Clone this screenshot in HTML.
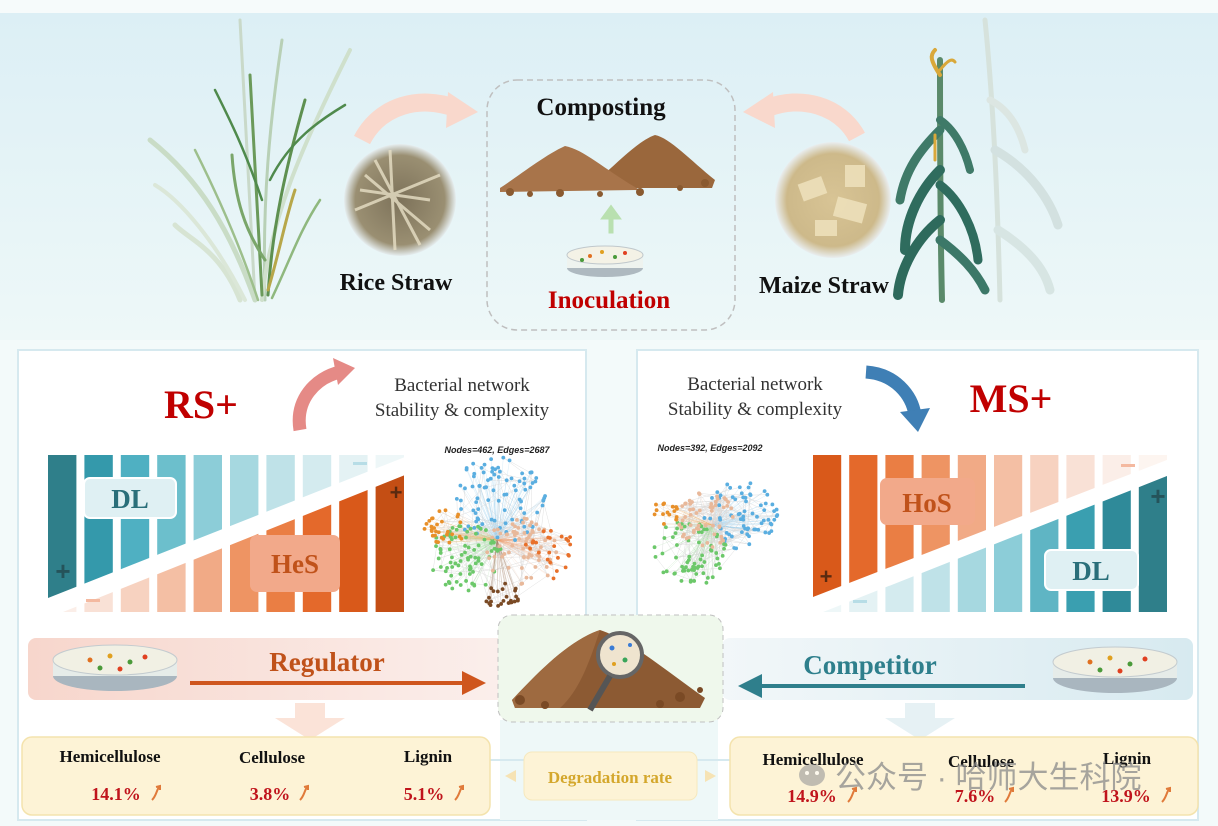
<!DOCTYPE html>
<html><head><meta charset="utf-8"><style>
html,body{margin:0;padding:0;background:#fff}
svg{display:block}
.s{font-family:"Liberation Serif",serif}
</style></head><body>
<svg id="m" width="1218" height="826" viewBox="0 0 1218 826" xmlns="http://www.w3.org/2000/svg">
<defs>
<linearGradient id="top" x1="0" y1="0" x2="0" y2="1"><stop offset="0" stop-color="#dcEFF5"/><stop offset="1" stop-color="#eef8f8"/></linearGradient>
<linearGradient id="reg" x1="0" y1="0" x2="1" y2="0"><stop offset="0" stop-color="#f7d6cc"/><stop offset="1" stop-color="#fbefec"/></linearGradient>
<linearGradient id="comp" x1="0" y1="0" x2="1" y2="0"><stop offset="0" stop-color="#f2f7f9"/><stop offset="1" stop-color="#d7eaf0"/></linearGradient>
<radialGradient id="rs" cx=".5" cy=".5" r=".5"><stop offset="0" stop-color="#7d725a"/><stop offset=".8" stop-color="#9a8f72"/><stop offset="1" stop-color="#e6eef0"/></radialGradient>
<radialGradient id="ms" cx=".5" cy=".5" r=".5"><stop offset="0" stop-color="#d8c495"/><stop offset=".8" stop-color="#cdb98a"/><stop offset="1" stop-color="#e9eef0"/></radialGradient>
<marker id="ao" markerWidth="6" markerHeight="6" refX="3" refY="3" orient="auto"><path d="M0,0 L6,3 L0,6 z" fill="#cf561e"/></marker>
<marker id="at" markerWidth="6" markerHeight="6" refX="3" refY="3" orient="auto"><path d="M0,0 L6,3 L0,6 z" fill="#2f7f8c"/></marker>
<clipPath id="lt"><polygon points="48,455 410,455 410,455 48,598"/></clipPath>
<clipPath id="lb"><polygon points="48,618 410,473 410,612 48,612"/></clipPath>
<clipPath id="rt"><polygon points="813,455 1172,455 1172,458 813,597"/></clipPath>
<clipPath id="rb"><polygon points="813,616 1172,474 1172,612 813,612"/></clipPath>
</defs>
<rect width="1218" height="826" fill="#f6fbfb"/>
<rect x="0" y="13" width="1218" height="330" fill="url(#top)"/>
<rect x="0" y="340" width="1218" height="486" fill="#f3fafa"/>
<rect x="18" y="350" width="568" height="470" fill="#fff" stroke="#d6e9ef" stroke-width="2"/>
<rect x="637" y="350" width="561" height="470" fill="#fff" stroke="#d6e9ef" stroke-width="2"/>
<rect x="500" y="720" width="218" height="100" fill="#eef8f8"/>
<line x1="490" y1="760" x2="735" y2="760" stroke="#d6e9ef" stroke-width="2"/>

<!-- rice plant -->
<g stroke-linecap="round" fill="none">
<path d="M255,300 C250,220 245,120 240,20" stroke="#c9d9c9" stroke-width="3"/>
<path d="M265,300 C262,200 270,120 282,40" stroke="#b8d0b6" stroke-width="3"/>
<path d="M255,300 C230,230 200,180 150,140" stroke="#c9dcc6" stroke-width="5"/>
<path d="M262,300 C270,220 300,150 350,50" stroke="#cfe0cc" stroke-width="4"/>
<path d="M240,300 C220,250 190,240 175,225" stroke="#d7e4d3" stroke-width="5"/>
<path d="M245,300 C215,240 180,200 155,185" stroke="#dbe7d8" stroke-width="4"/>
<path d="M262,295 C258,230 255,160 250,75" stroke="#6b9a5a" stroke-width="3"/>
<path d="M268,295 C272,230 285,170 305,100" stroke="#5e9050" stroke-width="3"/>
<path d="M262,200 C245,150 230,120 215,90" stroke="#4f8a4c" stroke-width="2.5"/>
<path d="M270,180 C290,140 320,120 345,105" stroke="#4f8a4c" stroke-width="2.5"/>
<path d="M265,260 C245,230 235,200 232,155" stroke="#7aa66a" stroke-width="3"/>
<path d="M268,290 C280,250 285,220 295,190" stroke="#b7a74a" stroke-width="3"/>
<path d="M258,300 C245,260 225,210 195,150" stroke="#9dbf8c" stroke-width="2.5"/>
<path d="M272,298 C290,260 300,230 320,200" stroke="#8fb87e" stroke-width="2.5"/>
</g>
<!-- maize plant -->
<g stroke-linecap="round" fill="none">
<path d="M1000,300 C998,220 995,120 985,20" stroke="#d6e2dc" stroke-width="5"/>
<path d="M995,150 C1030,170 1050,200 1058,225" stroke="#d3e1e0" stroke-width="9"/>
<path d="M998,230 C1030,250 1045,270 1050,290" stroke="#d7e5e3" stroke-width="9"/>
<path d="M990,100 C1010,110 1020,130 1025,150" stroke="#dce6e2" stroke-width="7"/>
<path d="M942,300 C940,220 940,130 940,60" stroke="#5a8a6a" stroke-width="6"/>
<path d="M940,130 C920,150 905,170 900,200" stroke="#3f7a68" stroke-width="9"/>
<path d="M940,120 C955,130 965,150 970,170" stroke="#3f7a68" stroke-width="8"/>
<path d="M940,170 C920,190 905,220 905,250" stroke="#2f6c5e" stroke-width="10"/>
<path d="M940,185 C960,200 975,230 978,260" stroke="#2f6c5e" stroke-width="9"/>
<path d="M940,220 C915,240 900,270 898,295" stroke="#2e6a5c" stroke-width="10"/>
<path d="M940,240 C960,255 975,270 985,290" stroke="#3c7868" stroke-width="9"/>
<path d="M940,75 C930,60 930,55 935,50" stroke="#d9a83a" stroke-width="4"/>
<path d="M940,70 C948,60 952,58 955,62" stroke="#d9a83a" stroke-width="3"/>
<path d="M935,160 l0,-25" stroke="#d9a83a" stroke-width="3"/>
</g>
<!-- straw circles -->
<circle cx="400" cy="200" r="56" fill="url(#rs)"/>
<g stroke="#e8e0c6" stroke-width="3" opacity=".8"><line x1="365" y1="175" x2="430" y2="230"/><line x1="375" y1="160" x2="420" y2="245"/><line x1="355" y1="210" x2="440" y2="175"/><line x1="390" y1="150" x2="395" y2="250"/><line x1="360" y1="190" x2="430" y2="200"/></g>
<circle cx="833" cy="200" r="58" fill="url(#ms)"/>
<g fill="#efe2bd" opacity=".85"><rect x="800" y="180" width="25" height="18" transform="rotate(-20 812 189)"/><rect x="835" y="200" width="30" height="20" transform="rotate(15 850 210)"/><rect x="815" y="220" width="22" height="16"/><rect x="845" y="165" width="20" height="22"/></g>
<!-- pink arrows -->
<path d="M362,140 C380,105 420,95 455,108" stroke="#f9d8cc" stroke-width="18" fill="none"/>
<path d="M448,92 L478,112 L446,128 z" fill="#f9d8cc"/>
<path d="M857,137 C840,105 800,95 768,108" stroke="#f9d8cc" stroke-width="18" fill="none"/>
<path d="M773,92 L743,112 L775,128 z" fill="#f9d8cc"/>
<!-- composting box -->
<rect x="487" y="80" width="248" height="250" rx="30" fill="none" stroke="#bfbfbf" stroke-width="1.5" stroke-dasharray="6,4"/>
<text x="601" y="115" text-anchor="middle" class="s" font-weight="bold" font-size="25" fill="#111">Composting</text>
<path d="M600,178 C620,160 640,140 655,135 C670,138 690,160 715,180 L712,188 L600,188 z" fill="#9a673c"/>
<path d="M500,188 C520,175 545,155 565,146 C585,150 605,170 640,190 L500,192 z" fill="#a8744a"/>
<g fill="#8a5a30"><circle cx="510" cy="192" r="4"/><circle cx="530" cy="194" r="3"/><circle cx="560" cy="193" r="4"/><circle cx="600" cy="194" r="3"/><circle cx="640" cy="192" r="4"/><circle cx="680" cy="188" r="3"/><circle cx="705" cy="183" r="4"/></g>
<path d="M610,232 L610,218 L603,218 L611,207 L619,218 L612,218 L612,232 z" fill="#b9e0b0" stroke="#b9e0b0" stroke-width="3"/>
<ellipse cx="605" cy="268" rx="38" ry="9" fill="#aeb9c0"/><rect x="567" y="255" width="76" height="13" fill="#eef3ef"/><ellipse cx="605" cy="255" rx="38" ry="9" fill="#f4f2e6" stroke="#c0c8cc"/>
<g><circle cx="590" cy="256" r="2" fill="#e07020"/><circle cx="602" cy="252" r="2" fill="#e0a020"/><circle cx="615" cy="257" r="2" fill="#4a9a3a"/><circle cx="625" cy="253" r="2" fill="#e04020"/><circle cx="582" cy="260" r="2" fill="#4a9a3a"/></g>
<text x="609" y="308" text-anchor="middle" class="s" font-weight="bold" font-size="25" fill="#c00000">Inoculation</text>
<text x="396" y="290" text-anchor="middle" class="s" font-weight="bold" font-size="24" fill="#111">Rice Straw</text>
<text x="824" y="293" text-anchor="middle" class="s" font-weight="bold" font-size="24" fill="#111">Maize Straw</text>

<!-- left panel -->
<text x="201" y="418" text-anchor="middle" class="s" font-weight="bold" font-size="40" fill="#c00000">RS+</text>
<path d="M300,430 C295,400 315,378 340,372" stroke="#e58a86" stroke-width="13" fill="none"/>
<path d="M333,358 L355,368 L338,385 z" fill="#e58a86"/>
<text x="462" y="391" text-anchor="middle" class="s" font-size="19" fill="#333">Bacterial network</text>
<text x="462" y="416" text-anchor="middle" class="s" font-size="19" fill="#333">Stability  &amp; complexity</text>
<g id="lbars"></g>
<rect x="84" y="478" width="92" height="40" rx="6" fill="#dff0f3" stroke="#fff" stroke-width="2"/>
<text x="130" y="508" text-anchor="middle" class="s" font-weight="bold" font-size="27" fill="#2a6f7a">DL</text>
<rect x="250" y="535" width="90" height="57" rx="7" fill="#f2a98a"/>
<text x="295" y="573" text-anchor="middle" class="s" font-weight="bold" font-size="27" fill="#c0521a">HeS</text>
<text x="63" y="580" text-anchor="middle" font-family="Liberation Sans" font-weight="bold" font-size="26" fill="#25535a">+</text>
<text x="396" y="500" text-anchor="middle" font-family="Liberation Sans" font-weight="bold" font-size="22" fill="#5a2a10">+</text>
<rect x="86" y="599" width="14" height="3" fill="#f4b9a0"/>
<rect x="353" y="462" width="14" height="3" fill="#b7dde6"/>
<text x="497" y="453" text-anchor="middle" font-family="Liberation Sans" font-style="italic" font-weight="bold" font-size="9" fill="#222">Nodes=462, Edges=2687</text>
<g id="lnet"></g>

<!-- right panel -->
<text x="1011" y="412" text-anchor="middle" class="s" font-weight="bold" font-size="40" fill="#c00000">MS+</text>
<path d="M866,372 C895,374 912,395 915,415" stroke="#3f7fb5" stroke-width="13" fill="none"/>
<path d="M900,412 L918,432 L930,408 z" fill="#3f7fb5"/>
<text x="755" y="390" text-anchor="middle" class="s" font-size="19" fill="#333">Bacterial network</text>
<text x="755" y="415" text-anchor="middle" class="s" font-size="19" fill="#333">Stability  &amp; complexity</text>
<g id="rbars"></g>
<rect x="880" y="478" width="95" height="47" rx="7" fill="#f2a98a"/>
<text x="927" y="512" text-anchor="middle" class="s" font-weight="bold" font-size="27" fill="#c0521a">HoS</text>
<rect x="1045" y="550" width="93" height="40" rx="6" fill="#dff0f3" stroke="#fff" stroke-width="2"/>
<text x="1091" y="580" text-anchor="middle" class="s" font-weight="bold" font-size="27" fill="#2a6f7a">DL</text>
<text x="826" y="584" text-anchor="middle" font-family="Liberation Sans" font-weight="bold" font-size="22" fill="#5a2a10">+</text>
<text x="1158" y="505" text-anchor="middle" font-family="Liberation Sans" font-weight="bold" font-size="26" fill="#25535a">+</text>
<rect x="853" y="600" width="14" height="3" fill="#b7dde6"/>
<rect x="1121" y="464" width="14" height="3" fill="#f4b9a0"/>
<text x="710" y="451" text-anchor="middle" font-family="Liberation Sans" font-style="italic" font-weight="bold" font-size="9" fill="#222">Nodes=392, Edges=2092</text>
<g id="rnet"></g>

<!-- bands -->
<rect x="28" y="638" width="480" height="62" rx="8" fill="url(#reg)"/>
<rect x="722" y="638" width="471" height="62" rx="8" fill="url(#comp)"/>
<text x="327" y="671" text-anchor="middle" class="s" font-weight="bold" font-size="27" fill="#c0521a">Regulator</text>
<line x1="190" y1="683" x2="474" y2="683" stroke="#cf561e" stroke-width="4" marker-end="url(#ao)"/>
<text x="870" y="674" text-anchor="middle" class="s" font-weight="bold" font-size="27" fill="#2e7f8c">Competitor</text>
<line x1="1025" y1="686" x2="750" y2="686" stroke="#2f7f8c" stroke-width="4" marker-end="url(#at)"/>
<g transform="translate(115,668)"><ellipse cx="0" cy="8" rx="62" ry="15" fill="#a9b6bf"/><rect x="-62" y="-8" width="124" height="16" fill="#e6ece9"/><ellipse cx="0" cy="-8" rx="62" ry="15" fill="#f1f0e4" stroke="#c3cbcf"/><circle cx="-25" cy="-8" r="2.5" fill="#e07020"/><circle cx="-5" cy="-12" r="2.5" fill="#e0a020"/><circle cx="15" cy="-6" r="2.5" fill="#4a9a3a"/><circle cx="30" cy="-11" r="2.5" fill="#e04020"/><circle cx="-15" cy="0" r="2.5" fill="#4a9a3a"/><circle cx="5" cy="1" r="2.5" fill="#e04020"/></g>
<g transform="translate(1115,670)"><ellipse cx="0" cy="8" rx="62" ry="15" fill="#a9b6bf"/><rect x="-62" y="-8" width="124" height="16" fill="#e6ece9"/><ellipse cx="0" cy="-8" rx="62" ry="15" fill="#f1f0e4" stroke="#c3cbcf"/><circle cx="-25" cy="-8" r="2.5" fill="#e07020"/><circle cx="-5" cy="-12" r="2.5" fill="#e0a020"/><circle cx="15" cy="-6" r="2.5" fill="#4a9a3a"/><circle cx="30" cy="-11" r="2.5" fill="#e04020"/><circle cx="-15" cy="0" r="2.5" fill="#4a9a3a"/><circle cx="5" cy="1" r="2.5" fill="#e04020"/></g>
<!-- center box -->
<rect x="498" y="615" width="225" height="107" rx="14" fill="#eff8ec" stroke="#bfbfbf" stroke-dasharray="5,4"/>
<path d="M512,700 C540,670 570,640 600,630 C630,640 665,670 705,698 L700,708 L515,708 z" fill="#8c5a33"/>
<path d="M512,700 C540,670 570,640 600,630 C590,660 580,690 560,708 L515,708 z" fill="#9e6a40"/>
<g fill="#7a4a25"><circle cx="520" cy="700" r="5"/><circle cx="545" cy="705" r="4"/><circle cx="680" cy="697" r="5"/><circle cx="700" cy="690" r="3"/><circle cx="660" cy="704" r="4"/></g>
<circle cx="620" cy="655" r="22" fill="#efe4cf" stroke="#666" stroke-width="4"/>
<line x1="610" y1="676" x2="590" y2="710" stroke="#555" stroke-width="6"/>
<g><circle cx="612" cy="648" r="2.5" fill="#3a7bd5"/><circle cx="625" cy="660" r="2.5" fill="#3aa55a"/><circle cx="630" cy="645" r="2" fill="#3a7bd5"/><circle cx="614" cy="664" r="2" fill="#e0a020"/></g>
<!-- down arrows -->
<path d="M295,703 L325,703 L325,718 L345,718 L310,740 L275,718 L295,718 z" fill="#fbe3d8"/>
<path d="M905,703 L935,703 L935,718 L955,718 L920,740 L885,718 L905,718 z" fill="#e6f1f4"/>
<!-- bottom boxes -->
<rect x="22" y="737" width="468" height="78" rx="10" fill="#fdf3d6" stroke="#f4e3ad" stroke-width="1.5"/>
<rect x="730" y="737" width="468" height="78" rx="10" fill="#fdf3d6" stroke="#f4e3ad" stroke-width="1.5"/>
<rect x="524" y="752" width="173" height="48" rx="8" fill="#fdf3d6" stroke="#f6e8bd"/>
<text x="610" y="783" text-anchor="middle" class="s" font-weight="bold" font-size="17" fill="#d4a72c">Degradation rate</text>
<path d="M516,770 L505,776 L516,782 z" fill="#f6e3b4"/><path d="M705,770 L716,776 L705,782 z" fill="#f6e3b4"/>
<g class="s" font-weight="bold" font-size="17" fill="#111" text-anchor="middle">
<text x="110" y="762">Hemicellulose</text><text x="272" y="763">Cellulose</text><text x="428" y="762">Lignin</text>
<text x="813" y="765">Hemicellulose</text><text x="981" y="767">Cellulose</text><text x="1127" y="764">Lignin</text>
</g>
<g class="s" font-weight="bold" font-size="18" fill="#c0141c" text-anchor="middle">
<text x="116" y="800">14.1%</text><text x="270" y="800">3.8%</text><text x="424" y="800">5.1%</text>
<text x="812" y="802">14.9%</text><text x="975" y="802">7.6%</text><text x="1126" y="802">13.9%</text>
</g>
<g stroke="#e07a3a" stroke-width="2" fill="none">
<path d="M152,800 C157,795 156,790 160,786 M156,787 l4,-1 l0,4"/><path d="M300,800 C305,795 304,790 308,786 M304,787 l4,-1 l0,4"/><path d="M455,800 C460,795 459,790 463,786 M459,787 l4,-1 l0,4"/>
<path d="M848,802 C853,797 852,792 856,788 M852,789 l4,-1 l0,4"/><path d="M1005,802 C1010,797 1009,792 1013,788 M1009,789 l4,-1 l0,4"/><path d="M1162,802 C1167,797 1166,792 1170,788 M1166,789 l4,-1 l0,4"/>
</g>
<!-- watermark -->
<g opacity=".6"><ellipse cx="812" cy="775" rx="13" ry="11" fill="#999"/><circle cx="807" cy="773" r="2" fill="#fff"/><circle cx="817" cy="773" r="2" fill="#fff"/></g>
<text x="835" y="788" font-family="'Liberation Sans','Noto Sans CJK SC',sans-serif" font-size="31" fill="#8a8a8a" opacity=".75">公众号 · 哈师大生科院</text>
</svg>
<script>
var NS="http://www.w3.org/2000/svg";
function el(p,t,a){var e=document.createElementNS(NS,t);for(var k in a)e.setAttribute(k,a[k]);p.appendChild(e);return e;}
var teal=["#2f7f8a","#3499ab","#4fb0c2","#6cbfcc","#8ccdd8","#a6d8e0","#bfe2e8","#d4ebef","#e4f2f4","#eef7f8"];
var ora=["#fbeee8","#f9e1d6","#f7d2c0","#f4bfa4","#f1aa86","#ee9463","#ea7e44","#e4692b","#d9591a","#c44e14"];
function bars(id,x0,pitch,topCols,botCols,ct,cb){var g=document.getElementById(id);
var gt=el(g,"g",{"clip-path":"url(#"+ct+")"}),gb=el(g,"g",{"clip-path":"url(#"+cb+")"});
for(var i=0;i<10;i++){var x=x0+i*pitch;el(gt,"rect",{x:x,y:455,width:pitch-8,height:160,fill:topCols[i]});el(gb,"rect",{x:x,y:455,width:pitch-8,height:157,fill:botCols[i]});}}
bars("lbars",48,36.4,teal,ora,"lt","lb");
bars("rbars",813,36.2,["#d9591a","#e4692b","#ea7e44","#ee9463","#f1aa86","#f4bfa4","#f7d2c0","#f9e1d6","#fbeee8","#fdf5f0"],["#eef7f8","#e4f2f4","#d4ebef","#bfe2e8","#a6d8e0","#8ccdd8","#5fb5c4","#3a9fb0","#2f8a99","#2f7f8a"],"rt","rb");
var s=7;function r(){s=(s*16807)%2147483647;return s/2147483647;}
function net(id,cx,cy,clusters){var g=document.getElementById(id);var pts=[];
clusters.forEach(function(c){for(var i=0;i<c.n;i++){var a=r()*6.283,d=Math.sqrt(r())*c.r;pts.push([cx+c.dx+Math.cos(a)*d*1.1,cy+c.dy+Math.sin(a)*d,c.col]);}});
var lg=el(g,"g",{stroke:"#c8c8c8","stroke-width":"0.4",opacity:"0.7"});
pts.forEach(function(p){for(var k=0;k<2;k++){var q=pts[Math.floor(r()*pts.length)];if(Math.abs(q[0]-p[0])+Math.abs(q[1]-p[1])<70)el(lg,"line",{x1:p[0],y1:p[1],x2:q[0],y2:q[1]});}
el(lg,"line",{x1:p[0],y1:p[1],x2:cx,y2:cy,stroke:p[2],opacity:.4});});
pts.forEach(function(p){el(g,"circle",{cx:p[0],cy:p[1],r:1.9,fill:p[2]});});}
net("lnet",497,540,[{n:90,r:44,dx:0,dy:-40,col:"#5aaee0"},{n:80,r:34,dx:-32,dy:18,col:"#6cc86a"},{n:70,r:34,dx:25,dy:12,col:"#e8b89a"},{n:30,r:20,dx:-52,dy:-12,col:"#e8902a"},{n:25,r:28,dx:55,dy:18,col:"#e8702a"},{n:25,r:16,dx:5,dy:58,col:"#7a4a25"}]);
net("rnet",712,525,[{n:70,r:34,dx:28,dy:-10,col:"#5aaee0"},{n:70,r:34,dx:-22,dy:28,col:"#6cc86a"},{n:55,r:28,dx:-5,dy:-5,col:"#e8b89a"},{n:15,r:14,dx:-45,dy:-12,col:"#e8902a"}]);
</script>
</body></html>
